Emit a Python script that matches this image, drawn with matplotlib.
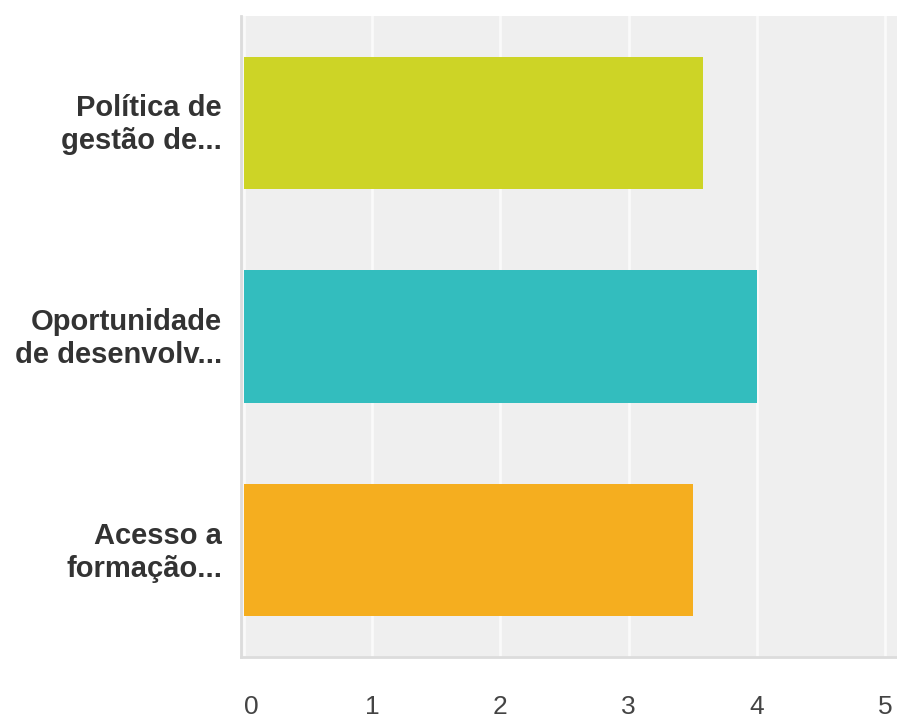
import matplotlib
matplotlib.use("Agg")
import matplotlib.pyplot as plt
from matplotlib.transforms import ScaledTranslation, blended_transform_factory

# Survey items (shown top to bottom) and their average scores
categories = ["Política de\ngestão de...", "Oportunidade\nde desenvolv...", "Acesso a\nformação..."]
values = [3.58, 4.0, 3.5]
colors = ["#CDD426", "#33BDBE", "#F5AE1F"]
x_ticks = [0, 1, 2, 3, 4, 5]

W, H, DPI = 897, 720, 100
fig = plt.figure(figsize=(W / DPI, H / DPI), dpi=DPI)
fig.patch.set_facecolor("white")

left, right, top, bottom = 241, 897, 16, 657
ax = fig.add_axes([left / W, 1 - bottom / H, (right - left) / W, (bottom - top) / H])
ax.set_facecolor("#EFEFEF")

ypos = list(range(len(categories)))
ax.barh(ypos, values, height=0.62, color=colors, zorder=3)

ax.set_ylim(len(categories) - 0.5, -0.5)
ax.set_xlim(-0.023, 5.094)

ax.set_xticks(x_ticks)
ax.set_xticklabels([str(t) for t in x_ticks])
ax.set_yticks(ypos)
ax.set_yticklabels([])

# category labels: right-aligned left of the plot, centred on each bar
label_tr = blended_transform_factory(ax.transAxes, ax.transData) + \
    ScaledTranslation(-19 / DPI, -2 / DPI, fig.dpi_scale_trans)
for y, text in zip(ypos, categories):
    ax.text(0, y, text, transform=label_tr, ha="right", va="center",
            multialignment="right", linespacing=1.24,
            fontfamily="Liberation Sans", fontweight="bold",
            fontsize=21, color="#333333")

for lab in ax.get_xticklabels():
    lab.set_fontfamily(["Liberation Sans Narrow", "Liberation Sans"])
    lab.set_fontsize(19)
    lab.set_color("#444444")
xl = ax.get_xticklabels()
xl[0].set_horizontalalignment("left")

ax.tick_params(axis="x", length=0, pad=27)
ax.tick_params(axis="y", length=0)

ax.grid(axis="x", color="#FAFAFA", linewidth=2, zorder=1)
ax.grid(axis="y", visible=False)
ax.set_axisbelow(True)

for side in ("top", "right"):
    ax.spines[side].set_visible(False)
for side in ("left", "bottom"):
    ax.spines[side].set_color("#DCDCDC")
    ax.spines[side].set_linewidth(2)

fig.savefig("out.png", dpi=DPI, facecolor="white")
